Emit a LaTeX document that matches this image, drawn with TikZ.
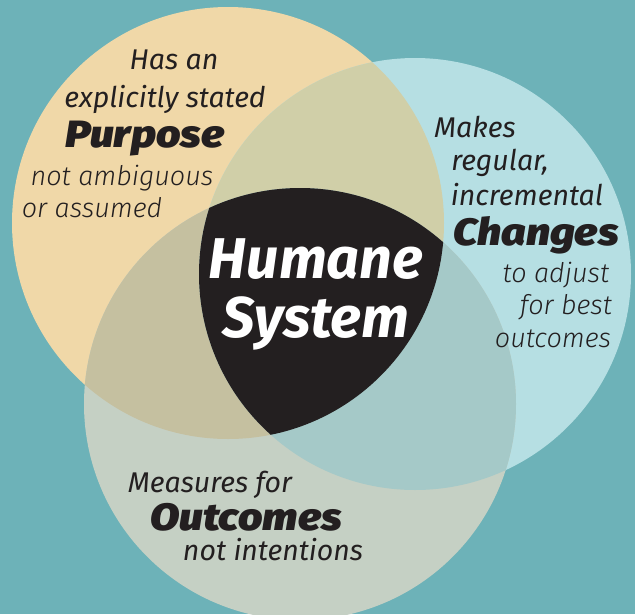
\documentclass[tikz,border=0pt]{standalone}
\usepackage{fontspec}
\setmainfont{Fira Sans}
\newfontfamily\lightit{Fira Sans Light Italic}
\newfontfamily\regit{Fira Sans Italic}
\newfontfamily\heavyit{Fira Sans Black Italic}
\newfontfamily\boldit{Fira Sans Bold Italic}
\definecolor{bg}{HTML}{6DB2B8}
\definecolor{cA}{HTML}{F0D8A8}
\definecolor{cB}{HTML}{B6DFE3}
\definecolor{cC}{HTML}{C5D0C4}
\definecolor{cAB}{HTML}{D0CFA8}
\definecolor{cAC}{HTML}{C5C0A0}
\definecolor{cBC}{HTML}{A5C9C8}
\definecolor{ink}{HTML}{231F20}
\newcommand{\wideheavy}[1]{\scalebox{1.13}[1]{#1}}
\tikzset{
  lt/.style={anchor=base, inner sep=0pt, text=ink, font=\lightit\fontsize{27}{27}\selectfont},
  rg/.style={anchor=base, inner sep=0pt, text=ink, font=\regit\fontsize{28.5}{28.5}\selectfont},
  hv/.style={anchor=base, inner sep=0pt, text=ink, font=\heavyit\fontsize{38}{38}\selectfont},
  ctr/.style={anchor=base, inner sep=0pt, text=white, font=\boldit\fontsize{57.5}{57.5}\selectfont},
}
\begin{document}
\begin{tikzpicture}[x=1pt,y=-1pt]
\fill[bg] (0,0) rectangle (635,614);
\useasboundingbox (0,0) rectangle (635,614);
\coordinate (A) at (228,223);
\coordinate (B) at (415,274);
\coordinate (C) at (300,404);
\def\R{216pt}
\fill[cA] (A) circle (\R);
\fill[cB] (B) circle (\R);
\fill[cC] (C) circle (\R);
\begin{scope}
  \clip (A) circle (\R);
  \fill[cAB] (B) circle (\R);
  \fill[cAC] (C) circle (\R);
\end{scope}
\begin{scope}
  \clip (B) circle (\R);
  \fill[cBC] (C) circle (\R);
\end{scope}
\begin{scope}
  \clip (A) circle (\R);
  \clip (B) circle (\R);
  \fill[ink] (C) circle (\R);
\end{scope}
% left
\node[rg] (a1) at (174,69) {Has an};
\node[rg] (a2) at (165,107) {explicitly stated};
\node[hv] (a3) at (145,147) {\wideheavy{Purpose}};
\node[lt] (a4) at (122,185) {not ambiguous};
\node[lt] (a5) at (92,217) {or assumed};
% right
\node[rg] (b1) at (475,137) {Makes};
\node[rg] (b2) at (500,170) {regular,};
\node[rg] (b3) at (527,205) {incremental};
\node[hv] (b4) at (536,245) {\wideheavy{Changes}};
\node[lt] (b5) at (556,282) {to adjust};
\node[lt] (b6) at (566,314) {for best};
\node[lt] (b7) at (553,347) {outcomes};
% bottom
\node[rg] (c1) at (210,492) {Measures for};
\node[hv] (c2) at (246,530) {\wideheavy{Outcomes}};
\node[rg] (c3) at (273,560) {not intentions};
% centre
\node[ctr] (h1) at (316,278) {Humane};
\node[ctr] (h2) at (316,337) {System};
\end{tikzpicture}
\end{document}
